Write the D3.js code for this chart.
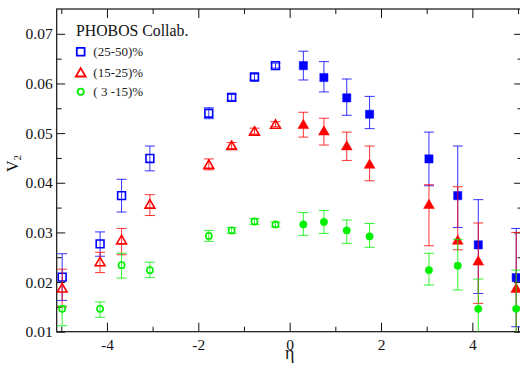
<!DOCTYPE html>
<html>
<head>
<meta charset="utf-8">
<script src="https://cdn.jsdelivr.net/npm/d3@7"></script>
<style>
  html, body { margin: 0; padding: 0; background: #fff; }
  svg { display: block; }
  svg text { font-family: "Liberation Serif", "Times New Roman", "DejaVu Serif", serif; }
</style>
</head>
<body>
<svg id="chart" width="520" height="368"></svg>
<script>
// Pseudorapidity bin centres (backward bins are open symbols, forward bins filled)
const etaBack = [-4.98, -4.15, -3.68, -3.06, -1.77, -1.27, -0.77, -0.31];
const etaFwd  = [0.30, 0.75, 1.25, 1.75, 3.05, 3.68, 4.13, 4.96];

// (25-50)% centrality
const v2CentA_back   = [0.0210, 0.0277, 0.0374, 0.0449, 0.0540, 0.0572, 0.0613, 0.0636];
const v2CentA_backHi = [0.0257, 0.0301, 0.0407, 0.0474, 0.0551, 0.0578, 0.0619, 0.0641];
const v2CentA_backLo = [0.0163, 0.0252, 0.0341, 0.0424, 0.0529, 0.0566, 0.0607, 0.0631];
const v2CentA_fwd    = [0.0636, 0.0612, 0.0571, 0.0538, 0.0448, 0.0374, 0.0275, 0.0209];
const v2CentA_fwdHi  = [0.0665, 0.0644, 0.0609, 0.0574, 0.0502, 0.0474, 0.0366, 0.0308];
const v2CentA_fwdLo  = [0.0607, 0.0583, 0.0536, 0.0509, 0.0394, 0.0310, 0.0177, 0.0110];

// (15-25)% centrality
const v2CentB_back   = [0.0188, 0.0241, 0.0285, 0.0357, 0.0437, 0.0475, 0.0504, 0.0518];
const v2CentB_backHi = [0.0226, 0.0260, 0.0308, 0.0376, 0.0448, 0.0481, 0.0510, 0.0523];
const v2CentB_backLo = [0.0150, 0.0219, 0.0255, 0.0334, 0.0426, 0.0469, 0.0498, 0.0513];
const v2CentB_fwd    = [0.0518, 0.0505, 0.0475, 0.0438, 0.0357, 0.0285, 0.0243, 0.0188];
const v2CentB_fwdHi  = [0.0542, 0.0530, 0.0502, 0.0474, 0.0396, 0.0392, 0.0319, 0.0300];
const v2CentB_fwdLo  = [0.0492, 0.0476, 0.0445, 0.0404, 0.0273, 0.0265, 0.0157, 0.0076];

// (3-15)% centrality
const v2CentC_back   = [0.0146, 0.0146, 0.0234, 0.0224, 0.0293, 0.0304, 0.0322, 0.0316];
const v2CentC_backHi = [0.0152, 0.0160, 0.0258, 0.0240, 0.0304, 0.0310, 0.0328, 0.0321];
const v2CentC_backLo = [0.0112, 0.0129, 0.0208, 0.0209, 0.0282, 0.0298, 0.0316, 0.0311];
const v2CentC_fwd    = [0.0316, 0.0321, 0.0304, 0.0292, 0.0224, 0.0233, 0.0146, 0.0146];
const v2CentC_fwdHi  = [0.0340, 0.0344, 0.0325, 0.0318, 0.0258, 0.0286, 0.0206, 0.0224];
const v2CentC_fwdLo  = [0.0294, 0.0298, 0.0278, 0.0270, 0.0194, 0.0184, 0.0086, 0.0068];

const seriesLabels = ["(25-50)%", "(15-25)%", "( 3 -15)%"];
const seriesColors = ["#0000ff", "#ff0000", "#00f000"];
const seriesShapes = ["square", "triangle", "circle"];

const xMajor = [-4, -2, 0, 2, 4];
const xMinor = [-5, -3, -1, 1, 3, 5];
const yMajor = [0.01, 0.02, 0.03, 0.04, 0.05, 0.06, 0.07];
const yMinor = [0.015, 0.025, 0.035, 0.045, 0.055, 0.065];

const titleText = "PHOBOS Collab.";

const serif = "'Liberation Serif', 'Times New Roman', 'DejaVu Serif', serif";

// ---- layout ----
const svg = d3.select("#chart");
const plotLeft = 56.7, plotRight = 522.6, plotTop = 9, plotBottom = 331.7;

const x = d3.scaleLinear().domain([-5.1, 5.1]).range([plotLeft, plotRight]);
const y = d3.scaleLinear().domain([0.01, 0.075]).range([plotBottom, plotTop]);

// ---- build point records ----
function rows(etas, v, hi, lo, filled) {
  return etas.map((e, i) => ({ eta: e, v: v[i], hi: hi[i], lo: lo[i], filled }));
}
const series = [
  rows(etaBack, v2CentA_back, v2CentA_backHi, v2CentA_backLo, false)
    .concat(rows(etaFwd, v2CentA_fwd, v2CentA_fwdHi, v2CentA_fwdLo, true)),
  rows(etaBack, v2CentB_back, v2CentB_backHi, v2CentB_backLo, false)
    .concat(rows(etaFwd, v2CentB_fwd, v2CentB_fwdHi, v2CentB_fwdLo, true)),
  rows(etaBack, v2CentC_back, v2CentC_backHi, v2CentC_backLo, false)
    .concat(rows(etaFwd, v2CentC_fwd, v2CentC_fwdHi, v2CentC_fwdLo, true)),
];

// ---- symbol paths ----
function symbolPath(shape, filled) {
  if (shape === "square") {
    const h = filled ? 4.1 : 3.9;
    return `M${-h},${-h}H${h}V${h}H${-h}Z`;
  }
  if (shape === "triangle") {
    return filled ? "M0,-4.9L5.4,4.4L-5.4,4.4Z" : "M0,-4.4L4.9,4.0L-4.9,4.0Z";
  }
  const r = filled ? 3.7 : 3.1;
  return `M${r},0A${r},${r} 0 1,1 ${-r},0A${r},${r} 0 1,1 ${r},0Z`;
}

// ---- clip ----
svg.append("defs").append("clipPath").attr("id", "plotClip")
  .append("rect").attr("x", plotLeft).attr("y", plotTop)
  .attr("width", plotRight - plotLeft).attr("height", plotBottom - plotTop);

// ---- axes (ticks point inward) ----
const fmtY = d3.format(".2f");
const axes = svg.append("g").attr("class", "axes");

axes.append("g").attr("transform", `translate(0,${plotBottom})`)
  .call(d3.axisBottom(x).tickValues(xMajor).tickSize(-9).tickSizeOuter(0)
    .tickPadding(7.3).tickFormat(d => String(d)));
axes.append("g").attr("transform", `translate(0,${plotBottom})`)
  .call(d3.axisBottom(x).tickValues(xMinor).tickSize(-5).tickSizeOuter(0).tickFormat(""));
axes.append("g").attr("transform", `translate(0,${plotTop})`)
  .call(d3.axisTop(x).tickValues(xMajor).tickSize(-9).tickSizeOuter(0).tickFormat(""));
axes.append("g").attr("transform", `translate(0,${plotTop})`)
  .call(d3.axisTop(x).tickValues(xMinor).tickSize(-5).tickSizeOuter(0).tickFormat(""));

axes.append("g").attr("transform", `translate(${plotLeft},0)`)
  .call(d3.axisLeft(y).tickValues(yMajor).tickSize(-8.5).tickSizeOuter(0)
    .tickPadding(4).tickFormat(fmtY));
axes.append("g").attr("transform", `translate(${plotLeft},0)`)
  .call(d3.axisLeft(y).tickValues(yMinor).tickSize(-5).tickSizeOuter(0).tickFormat(""));
axes.append("g").attr("transform", `translate(${plotRight},0)`)
  .call(d3.axisRight(y).tickValues(yMajor).tickSize(-8.5).tickSizeOuter(0).tickFormat(""));
axes.append("g").attr("transform", `translate(${plotRight},0)`)
  .call(d3.axisRight(y).tickValues(yMinor).tickSize(-5).tickSizeOuter(0).tickFormat(""));

axes.selectAll(".domain").remove();
axes.selectAll("g").attr("font-family", null);
axes.selectAll(".tick line").attr("stroke", "#111").attr("stroke-width", 1);
axes.selectAll(".tick text")
  .style("font-family", serif)
  .attr("font-size", 15.5).attr("fill", "#111");

// frame
svg.append("rect")
  .attr("x", plotLeft).attr("y", plotTop)
  .attr("width", plotRight - plotLeft).attr("height", plotBottom - plotTop)
  .attr("fill", "none").attr("stroke", "#111").attr("stroke-width", 1.2);

// ---- data ----
const plot = svg.append("g").attr("clip-path", "url(#plotClip)");
const capHalf = 5;

series.forEach((pts, si) => {
  const col = seriesColors[si];
  const g = plot.append("g");
  const eb = g.selectAll(".eb").data(pts).join("g").attr("class", "eb")
    .attr("stroke", col).attr("stroke-width", 1).attr("stroke-opacity", 0.8);
  eb.append("line")
    .attr("x1", d => x(d.eta)).attr("x2", d => x(d.eta))
    .attr("y1", d => y(d.hi)).attr("y2", d => y(d.lo));
  eb.append("line")
    .attr("x1", d => x(d.eta) - capHalf).attr("x2", d => x(d.eta) + capHalf)
    .attr("y1", d => y(d.hi)).attr("y2", d => y(d.hi));
  eb.append("line")
    .attr("x1", d => x(d.eta) - capHalf).attr("x2", d => x(d.eta) + capHalf)
    .attr("y1", d => y(d.lo)).attr("y2", d => y(d.lo));

  g.selectAll(".sym").data(pts).join("path").attr("class", "sym")
    .attr("transform", d => `translate(${x(d.eta)},${y(d.v)})`)
    .attr("d", d => symbolPath(seriesShapes[si], d.filled))
    .attr("fill", d => d.filled ? col : "none")
    .attr("stroke", col)
    .attr("stroke-width", d => d.filled ? 0.5 : 1.6);
});

// ---- legend ----
const legend = svg.append("g");
legend.append("text")
  .attr("x", 76).attr("y", 36)
  .style("font-family", serif)
  .attr("font-size", 15.8).attr("fill", "#111")
  .text(titleText);

const legendRows = [51.7, 72.5, 91.7];
seriesLabels.forEach((lab, i) => {
  legend.append("path")
    .attr("transform", `translate(80.7,${legendRows[i]})`)
    .attr("d", symbolPath(seriesShapes[i], false))
    .attr("fill", "none").attr("stroke", seriesColors[i]).attr("stroke-width", 1.8);
  legend.append("text")
    .attr("x", 93.3).attr("y", legendRows[i] + 4)
    .style("font-family", serif)
    .attr("font-size", 13).attr("fill", "#222")
    .style("white-space", "pre")
    .text(lab);
});

// ---- axis titles ----
const yTitle = svg.append("text")
  .attr("transform", "translate(18,172) rotate(-90)")
  .style("font-family", serif)
  .attr("font-size", 16).attr("fill", "#111");
yTitle.append("tspan").text("V");
yTitle.append("tspan").attr("font-size", 11).attr("dy", 3).text("2");

svg.append("text")
  .attr("x", x(0)).attr("y", 359)
  .attr("text-anchor", "middle")
  .style("font-family", serif)
  .attr("font-size", 18).attr("fill", "#111")
  .text("η");
</script>
</body>
</html>
